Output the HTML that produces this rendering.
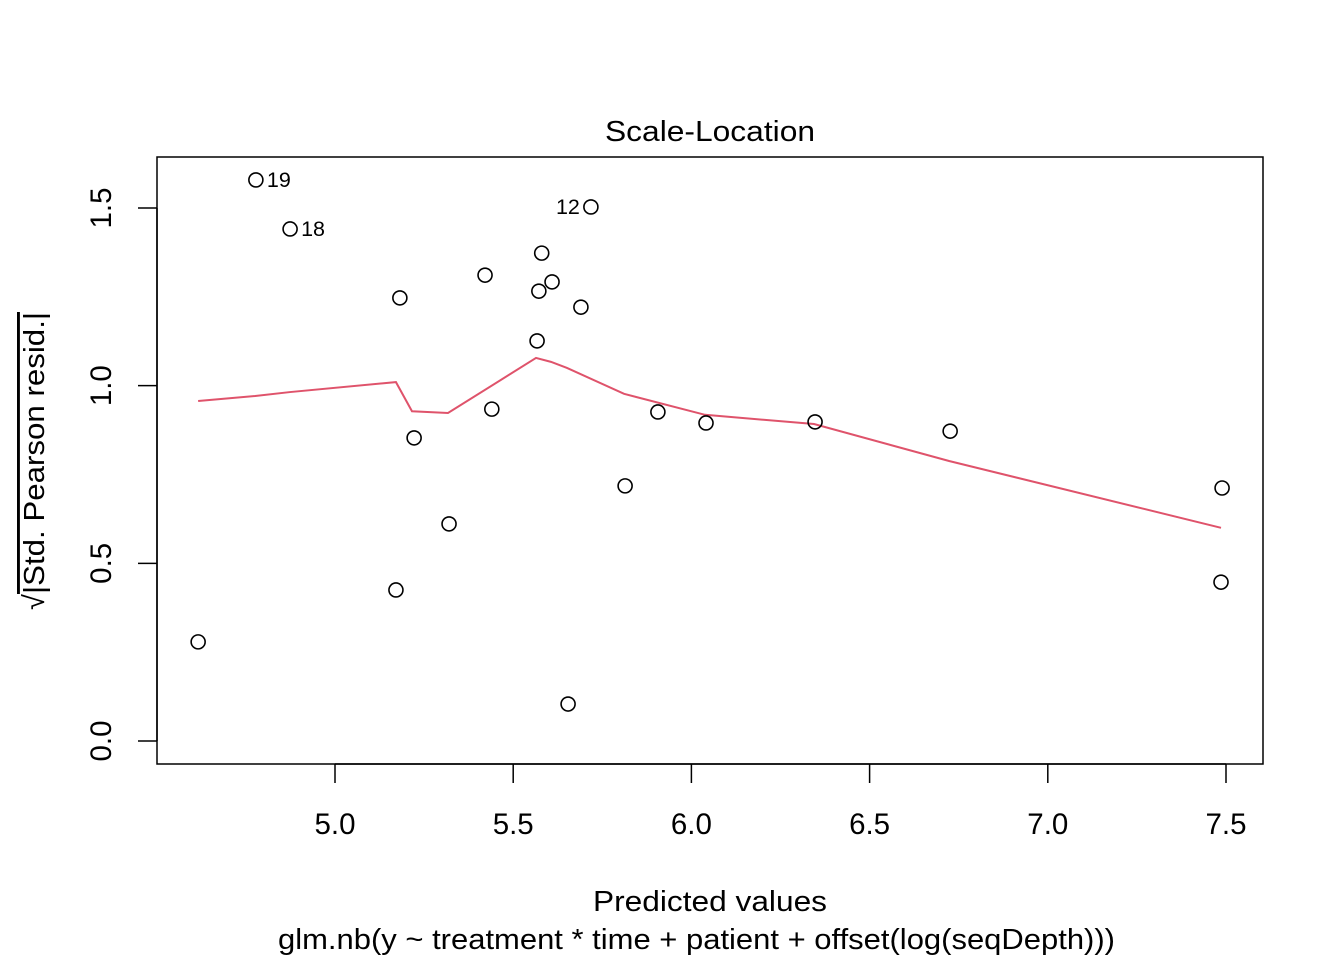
<!DOCTYPE html>
<html><head><meta charset="utf-8"><style>
body{margin:0;background:#fff;}
svg{display:block;font-family:"Liberation Sans",Arial,sans-serif;}
</style></head><body>
<svg id="chart" width="1344" height="960" viewBox="0 0 1344 960">
<rect x="157" y="157" width="1106" height="607" fill="none" stroke="#000" stroke-width="1.5"/>
<text x="605" y="141" font-size="29" textLength="210" lengthAdjust="spacingAndGlyphs">Scale-Location</text>
<text x="593" y="911" font-size="29" textLength="234" lengthAdjust="spacingAndGlyphs">Predicted values</text>
<text x="278" y="949" font-size="29" textLength="837" lengthAdjust="spacingAndGlyphs">glm.nb(y ~ treatment * time + patient + offset(log(seqDepth)))</text>
<g transform="translate(44,610) rotate(-90)">
<text x="0" y="0" font-size="29">√</text>
<text x="16" y="0" font-size="29" textLength="282" lengthAdjust="spacingAndGlyphs" text-decoration="overline">|Std. Pearson resid.|</text>
</g>
<g id="xaxis"></g>
<g id="yaxis"></g>
<g id="fit"></g>
<g id="pts"></g>
</svg>
<script>
const xVals=[4.616,4.778,4.874,5.182,5.171,5.222,5.320,5.421,5.440,5.567,5.572,5.580,5.609,5.654,5.690,5.718,5.814,5.906,6.041,6.347,6.726,7.489,7.486];
const yVals=[0.279,1.579,1.441,1.247,0.425,0.853,0.611,1.311,0.934,1.126,1.266,1.373,1.292,0.104,1.221,1.503,0.718,0.926,0.895,0.898,0.872,0.712,0.447];
const pointLabels=["","19","18","","","","","","","","","","","","","12","","","","","","",""];
const fitX=[4.616,4.776,4.874,5.171,5.216,5.317,5.564,5.606,5.651,5.811,6.038,6.344,6.723,7.486];
const fitY=[0.957,0.971,0.982,1.010,0.928,0.923,1.078,1.067,1.050,0.977,0.918,0.892,0.788,0.600];
const xTicks=[5.0,5.5,6.0,6.5,7.0,7.5];
const yTicks=[0.0,0.5,1.0,1.5];
const NS="http://www.w3.org/2000/svg";
function sx(v){return 335+(v-5)*356.4;}
function sy(v){return 741-v*355.33;}
function mk(t,a){const e=document.createElementNS(NS,t);for(const k in a)e.setAttribute(k,a[k]);return e;}
const xa=document.getElementById('xaxis');
xa.appendChild(mk('line',{x1:sx(xTicks[0]),x2:sx(xTicks[xTicks.length-1]),y1:764,y2:764,stroke:'#000','stroke-width':1.5}));
xTicks.forEach(t=>{
 const l=mk('line',{x1:sx(t),x2:sx(t),y1:764,y2:783,stroke:'#000','stroke-width':1.5});
 
 
 xa.appendChild(l);
 const tx=mk('text',{x:sx(t),y:834,'font-size':29.5,'text-anchor':'middle'});
 tx.textContent=t.toFixed(1);
 
 
 xa.appendChild(tx);
});
const ya=document.getElementById('yaxis');
ya.appendChild(mk('line',{x1:157,x2:157,y1:sy(yTicks[0]),y2:sy(yTicks[yTicks.length-1]),stroke:'#000','stroke-width':1.5}));
yTicks.forEach(t=>{
 const l=mk('line',{x1:138,x2:157,y1:sy(t),y2:sy(t),stroke:'#000','stroke-width':1.5});
 
 
 ya.appendChild(l);
 const tx=mk('text',{x:0,y:0,'font-size':29.5,'text-anchor':'middle',transform:`translate(111,${sy(t)}) rotate(-90)`});
 tx.textContent=t.toFixed(1);
 
 
 ya.appendChild(tx);
});
const fit=document.getElementById('fit');
const pl=mk('polyline',{points:fitX.map((x,i)=>sx(x)+','+sy(fitY[i])).join(' '),fill:'none',stroke:'#DF536B','stroke-width':2});


fit.appendChild(pl);
const pts=document.getElementById('pts');
xVals.forEach((x,i)=>{
 const c=mk('circle',{cx:sx(x),cy:sy(yVals[i]),r:7,fill:'none',stroke:'#000','stroke-width':1.6});
 
 
 pts.appendChild(c);
 if(pointLabels[i]){
  const left=pointLabels[i]==="12";
  const tx=mk('text',{x:sx(x)+(left?-11:11),y:sy(yVals[i])+7,'font-size':21.5,'text-anchor':left?'end':'start'});
  tx.textContent=pointLabels[i];
  
  
  pts.appendChild(tx);
 }
});
</script>
</body></html>
